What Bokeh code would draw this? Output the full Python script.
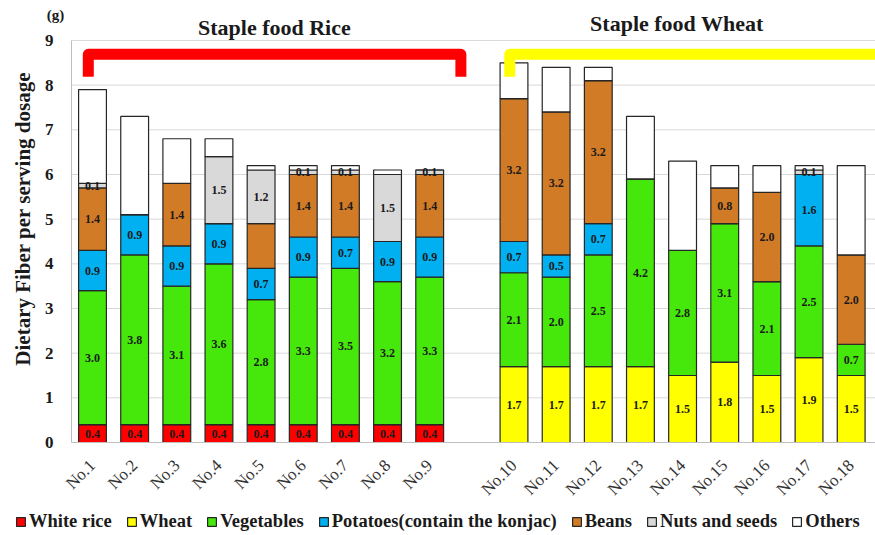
import math
from bokeh.plotting import figure
from bokeh.models import (ColumnDataSource, Legend, LegendItem, Label, FixedTicker, Range1d)
from bokeh.embed import file_html
from bokeh.resources import INLINE
from bokeh.core.properties import value

# ---------------- data ----------------
samples = ["No.1", "No.2", "No.3", "No.4", "No.5", "No.6", "No.7", "No.8", "No.9",
           "No.10", "No.11", "No.12", "No.13", "No.14", "No.15", "No.16", "No.17", "No.18"]
white_rice = [0.4, 0.4, 0.4, 0.4, 0.4, 0.4, 0.4, 0.4, 0.4,
              0, 0, 0, 0, 0, 0, 0, 0, 0]
wheat = [0, 0, 0, 0, 0, 0, 0, 0, 0,
         1.7, 1.7, 1.7, 1.7, 1.5, 1.8, 1.5, 1.9, 1.5]
vegetables = [3.0, 3.8, 3.1, 3.6, 2.8, 3.3, 3.5, 3.2, 3.3,
              2.1, 2.0, 2.5, 4.2, 2.8, 3.1, 2.1, 2.5, 0.7]
potatoes = [0.9, 0.9, 0.9, 0.9, 0.7, 0.9, 0.7, 0.9, 0.9,
            0.7, 0.5, 0.7, 0, 0, 0, 0, 1.6, 0]
beans = [1.4, 0, 1.4, 0, 1.0, 1.4, 1.4, 0, 1.4,
         3.2, 3.2, 3.2, 0, 0, 0.8, 2.0, 0, 2.0]
nuts = [0.1, 0, 0, 1.5, 1.2, 0.1, 0.1, 1.5, 0.1,
        0, 0, 0, 0, 0, 0, 0, 0.1, 0]
others = [2.1, 2.2, 1.0, 0.4, 0.1, 0.1, 0.1, 0.1, 0.0,
          0.8, 1.0, 0.3, 1.4, 2.0, 0.5, 0.6, 0.1, 2.0]

series_names = ["White rice", "Wheat", "Vegetables", "Potatoes(contain the konjac)",
                "Beans", "Nuts and seeds", "Others"]
series_values = [white_rice, wheat, vegetables, potatoes, beans, nuts, others]
series_colors = ["#FF0000", "#FFFF00", "#46E80B", "#00B0F0", "#D27B27", "#D9D9D9", "#FFFFFF"]
labelled_series = ["White rice", "Wheat", "Vegetables", "Potatoes(contain the konjac)",
                   "Beans", "Nuts and seeds"]
unlabelled_segments = [("Beans", "No.5")]

group_titles = ["Staple food  Rice", "Staple food  Wheat"]
unit_label = "(g)"
y_label = "Dietary Fiber per serving dosage"
y_ticks = [0, 1, 2, 3, 4, 5, 6, 7, 8, 9]

# ---------------- layout helpers ----------------
xpos = [i if i < 9 else i + 1 for i in range(len(samples))]
keys = ["s%d" % k for k in range(len(series_names))]
data = {"x": xpos}
for k, vals in zip(keys, series_values):
    data[k] = vals
src = ColumnDataSource(data)

SERIF = "Liberation Serif"
INK = "#1a1a1a"
X_LEFT, X_RIGHT = -0.5, 18.577   # plot-area extent (categories)
Y_TOP = 9

p = figure(width=875, height=535, output_backend="svg", toolbar_location=None,
           x_range=Range1d(-2.183, 18.577), y_range=Range1d(-2.082, 9.895),
           min_border=0)
p.title.visible = False
p.outline_line_color = None
p.background_fill_color = "white"
p.xgrid.visible = False
p.ygrid.visible = False

# horizontal gridlines
p.segment(x0=[X_LEFT] * len(y_ticks), x1=[X_RIGHT] * len(y_ticks), y0=y_ticks, y1=y_ticks,
          line_color="#D9D9D9", line_width=1)

renderers = p.vbar_stack(keys, x="x", width=0.66, source=src, fill_color=series_colors,
                         line_color="#262626", line_width=1.2)

# segment labels
lx, ly, lt = [], [], []
for i, name in enumerate(samples):
    base = 0.0
    for sname, vals in zip(series_names, series_values):
        v = vals[i]
        if v > 0 and sname in labelled_series and (sname, name) not in unlabelled_segments:
            lx.append(xpos[i])
            ly.append(base + v / 2.0)
            lt.append("%.1f" % v)
        base += v
p.text(x=lx, y=ly, text=lt, text_font=value(SERIF), text_font_style="bold",
       text_font_size="12px", text_align="center", text_baseline="middle",
       text_color=INK)

# brackets
first_rice, last_rice = xpos[0], xpos[8]
first_wheat = xpos[9]
p.line(x=[first_rice - 0.1, first_rice - 0.1, last_rice + 0.74, last_rice + 0.74],
       y=[8.19, 8.69, 8.69, 8.19], line_color="#FF0000", line_width=11, line_join="round")
p.line(x=[first_wheat - 0.1, first_wheat - 0.1, X_RIGHT + 0.2],
       y=[8.19, 8.69, 8.69], line_color="#FFFF00", line_width=11, line_join="round")

# titles
p.add_layout(Label(x=4.38, y=9.29, text=group_titles[0], text_font=SERIF, text_font_style="bold",
                   text_font_size="22px", text_color=INK, text_align="center", text_baseline="middle"))
p.add_layout(Label(x=13.93, y=9.37, text=group_titles[1], text_font=SERIF, text_font_style="bold",
                   text_font_size="22px", text_color=INK, text_align="center", text_baseline="middle"))
p.add_layout(Label(x=-0.88, y=9.56, text=unit_label, text_font=SERIF, text_font_style="bold",
                   text_font_size="15px", text_color=INK, text_align="center", text_baseline="middle"))
# y-axis title (centred as in the reference, slightly above the axis middle)
p.add_layout(Label(x=-1.66, y=5.01, text=y_label, angle=math.pi / 2, text_font=SERIF,
                   text_font_style="bold", text_font_size="21px", text_color=INK,
                   text_align="center", text_baseline="middle"))

# axes
p.xaxis.fixed_location = 0
p.xaxis.bounds = (X_LEFT, X_RIGHT)
p.xaxis.ticker = FixedTicker(ticks=xpos)
p.xaxis.major_label_overrides = {x: n for x, n in zip(xpos, samples)}
p.xaxis.major_label_orientation = math.pi / 4
p.xaxis.major_label_text_font = SERIF
p.xaxis.major_label_text_font_size = "17px"
p.xaxis.major_label_text_color = "#333333"
p.xaxis.major_tick_line_color = None
p.xaxis.minor_tick_line_color = None
p.xaxis.axis_line_color = "#BFBFBF"
p.xaxis.major_label_standoff = 14

p.yaxis.fixed_location = X_LEFT
p.yaxis.bounds = (0, Y_TOP)
p.yaxis.ticker = FixedTicker(ticks=y_ticks)
p.yaxis.major_label_text_font = SERIF
p.yaxis.major_label_text_font_style = "bold"
p.yaxis.major_label_text_font_size = "17px"
p.yaxis.major_label_text_color = INK
p.yaxis.major_tick_line_color = None
p.yaxis.minor_tick_line_color = None
p.yaxis.axis_line_color = "#BFBFBF"
p.yaxis.major_label_standoff = 12

legend = Legend(items=[LegendItem(label=n, renderers=[r]) for n, r in zip(series_names, renderers)],
                location=(15, 3), orientation="horizontal",
                label_text_font=SERIF, label_text_font_style="bold", label_text_font_size="18.5px",
                label_text_color=INK,
                glyph_width=11, glyph_height=11, label_standoff=3, spacing=14,
                padding=0, margin=0, border_line_color=None, background_fill_alpha=0)
p.add_layout(legend, "center")

open("out.html", "w").write(file_html(p, INLINE))
